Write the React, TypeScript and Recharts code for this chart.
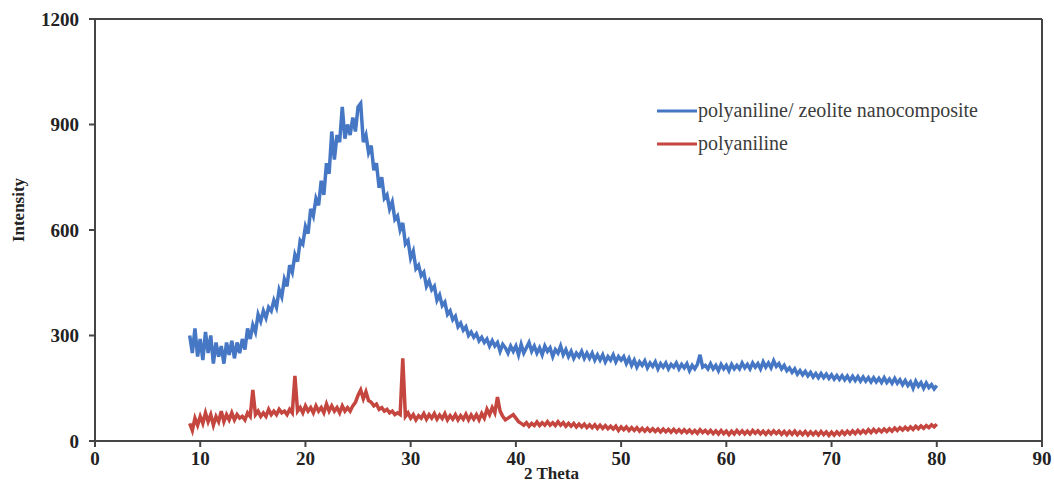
import { Line, LineChart, ReferenceLine, XAxis, YAxis } from 'recharts';

// 2θ scan grid: 9° to 80° in 0.25° steps
const scanStart = 9;
const scanStep = 0.25;

// polyaniline/ zeolite nanocomposite, two degrees per row
const compositeIntensity = [
  300, 250, 320, 240, 290, 230, 310, 250,
  300, 220, 280, 240, 270, 220, 280, 245,
  285, 235, 280, 250, 290, 260, 320, 290,
  330, 310, 360, 340, 370, 350, 380, 370,
  400, 380, 430, 410, 460, 440, 500, 480,
  530, 510, 570, 560, 610, 590, 660, 640,
  690, 670, 740, 700, 790, 760, 880, 800,
  870, 850, 950, 860, 900, 870, 920, 880,
  950, 960, 850, 870, 820, 840, 770, 790,
  720, 750, 690, 700, 660, 680, 630, 640,
  600, 620, 560, 570, 520, 540, 490, 500,
  470, 480, 440, 455, 430, 440, 400, 415,
  385, 395, 360, 370, 345, 355, 325, 335,
  315, 325, 300, 310, 295, 305, 285, 295,
  280, 290, 270, 285, 270, 280, 255, 275,
  265, 250, 270, 255, 270, 245, 275, 250,
  265, 280, 255, 270, 250, 265, 245, 270,
  255, 265, 240, 260, 250, 270, 245, 260,
  240, 255, 235, 250, 240, 255, 235, 250,
  235, 250, 230, 245, 230, 245, 225, 240,
  230, 245, 225, 240, 230, 240, 220, 235,
  215, 230, 210, 225, 215, 228, 208, 222,
  212, 225, 205, 220, 210, 222, 205, 218,
  210, 222, 205, 218, 208, 220, 200, 215,
  205, 218, 245, 210, 215, 205, 220, 205,
  215, 200, 218, 205, 215, 200, 218, 205,
  215, 205, 222, 208, 218, 205, 222, 210,
  220, 205, 225, 210, 222, 208, 228, 212,
  220, 205, 215, 200, 208, 195, 205, 190,
  200, 188, 198, 185, 195, 182, 192, 180,
  192, 180, 190, 178, 188, 176, 186, 175,
  186, 174, 185, 172, 184, 172, 183, 170,
  182, 170, 180, 168, 180, 168, 178, 166,
  180, 166, 176, 164, 178, 164, 174, 160,
  172, 158, 168, 150, 170, 156, 166, 150,
  165, 152, 160, 148,
  158,
];

// polyaniline
const polyanilineIntensity = [
  50, 30, 65, 45, 70, 50, 80, 55,
  75, 45, 70, 55, 85, 55, 75, 60,
  80, 60, 75, 65, 70, 60, 80, 70,
  145, 75, 85, 70, 80, 70, 90, 75,
  85, 75, 90, 80, 85, 75, 90, 80,
  185, 85, 95, 80, 100, 85, 95, 80,
  100, 85, 95, 80, 105, 85, 100, 85,
  95, 80, 100, 85, 95, 85, 100, 110,
  130, 145, 120, 140, 115, 110, 100, 105,
  90, 95, 85, 90, 80, 85, 75, 80,
  75, 235, 70, 80, 65, 75, 60, 72,
  65, 78, 62, 75, 65, 78, 62, 74,
  64, 78, 60, 72, 62, 75, 60, 72,
  62, 76, 60, 74, 62, 75, 60, 78,
  65, 90, 75, 95, 80, 125, 85, 70,
  60, 65, 70, 75, 65, 55, 50, 45,
  52, 42, 50, 44, 54, 44, 52, 45,
  55, 45, 52, 44, 55, 45, 52, 42,
  50, 42, 50, 40, 48, 40, 48, 38,
  46, 38, 46, 36, 45, 36, 44, 35,
  42, 34, 42, 30, 40, 32, 40, 30,
  38, 30, 38, 28, 36, 28, 36, 28,
  35, 27, 34, 26, 34, 26, 33, 25,
  33, 25, 32, 24, 32, 24, 31, 23,
  30, 22, 32, 24, 30, 22, 30, 21,
  29, 20, 30, 21, 28, 18, 28, 20,
  30, 21, 29, 20, 28, 20, 30, 22,
  29, 20, 28, 19, 28, 20, 29, 21,
  28, 19, 27, 18, 27, 19, 28, 18,
  26, 18, 27, 17, 26, 18, 26, 17,
  27, 18, 26, 16, 25, 17, 26, 18,
  27, 19, 28, 20, 29, 21, 30, 22,
  30, 23, 32, 24, 33, 25, 33, 26,
  34, 27, 35, 28, 37, 30, 38, 31,
  39, 32, 40, 33, 42, 35, 43, 36,
  44, 38, 46, 40,
  48,
];

const xTicks = [0, 10, 20, 30, 40, 50, 60, 70, 80, 90];
const yTicks = [0, 300, 600, 900, 1200];

const seriesNames = ['polyaniline/ zeolite nanocomposite', 'polyaniline'];
const seriesColors = ['#4677C4', '#C4463F'];

const data = compositeIntensity.map((v, i) => ({
  theta: scanStart + i * scanStep,
  composite: v,
  pani: polyanilineIntensity[i],
}));

const serif = '"Liberation Serif", "Times New Roman", serif';
const axisColor = '#454545';
const tickStyle = { fontFamily: serif, fontSize: 19, fontWeight: 700, fill: '#222' };

function LegendBox() {
  return (
    <div
      style={{
        position: 'absolute',
        left: 657,
        top: 94,
        fontFamily: serif,
        fontSize: 20,
        color: '#3c3c3c',
        lineHeight: '33px',
        whiteSpace: 'nowrap',
      }}
    >
      {seriesNames.map((name, i) => (
        <div key={name} style={{ display: 'flex', alignItems: 'center' }}>
          <svg width={40} height={6} style={{ marginRight: 1 }}>
            <line x1={0} y1={3} x2={40} y2={3} stroke={seriesColors[i]} strokeWidth={3} />
          </svg>
          <span>{name}</span>
        </div>
      ))}
    </div>
  );
}

function IntensityLabel(props: any) {
  const { viewBox } = props;
  const x = viewBox.x + 18;
  const y = viewBox.y + viewBox.height / 2 - 20;
  return (
    <text
      x={x}
      y={y}
      transform={`rotate(-90, ${x}, ${y})`}
      textAnchor="middle"
      dominantBaseline="central"
      style={{ fontFamily: serif, fontSize: 17, fontWeight: 700, fill: '#222' }}
    >
      Intensity
    </text>
  );
}

export default function App() {
  return (
    <div style={{ position: 'absolute', left: 0, top: 0, width: 1054, height: 483, background: '#fff' }}>
      <LineChart width={1054} height={483} data={data} margin={{ top: 19, right: 12, bottom: 0, left: 0 }}>
        <XAxis
          type="number"
          dataKey="theta"
          domain={[0, 90]}
          ticks={xTicks}
          height={42}
          tickSize={6}
          tickMargin={5}
          tick={tickStyle}
          axisLine={{ stroke: axisColor, strokeWidth: 2 }}
          tickLine={{ stroke: axisColor, strokeWidth: 2 }}
          label={{
            value: '2 Theta',
            position: 'insideBottom',
            offset: 4,
            dx: -17,
            style: { fontFamily: serif, fontSize: 17, fontWeight: 700, fill: '#222' },
          }}
        />
        <YAxis
          type="number"
          domain={[0, 1200]}
          ticks={yTicks}
          width={95}
          tickSize={6}
          tickMargin={10}
          tick={tickStyle}
          axisLine={{ stroke: axisColor, strokeWidth: 2 }}
          tickLine={{ stroke: axisColor, strokeWidth: 2 }}
          label={<IntensityLabel />}
        />
        <ReferenceLine y={1200} stroke={axisColor} strokeWidth={2} />
        <ReferenceLine x={90} stroke={axisColor} strokeWidth={2} />
        <Line
          type="linear"
          dataKey="composite"
          name={seriesNames[0]}
          stroke={seriesColors[0]}
          strokeWidth={3.5}
          dot={false}
          isAnimationActive={false}
        />
        <Line
          type="linear"
          dataKey="pani"
          name={seriesNames[1]}
          stroke={seriesColors[1]}
          strokeWidth={3.5}
          dot={false}
          isAnimationActive={false}
        />
      </LineChart>
      <LegendBox />
    </div>
  );
}
